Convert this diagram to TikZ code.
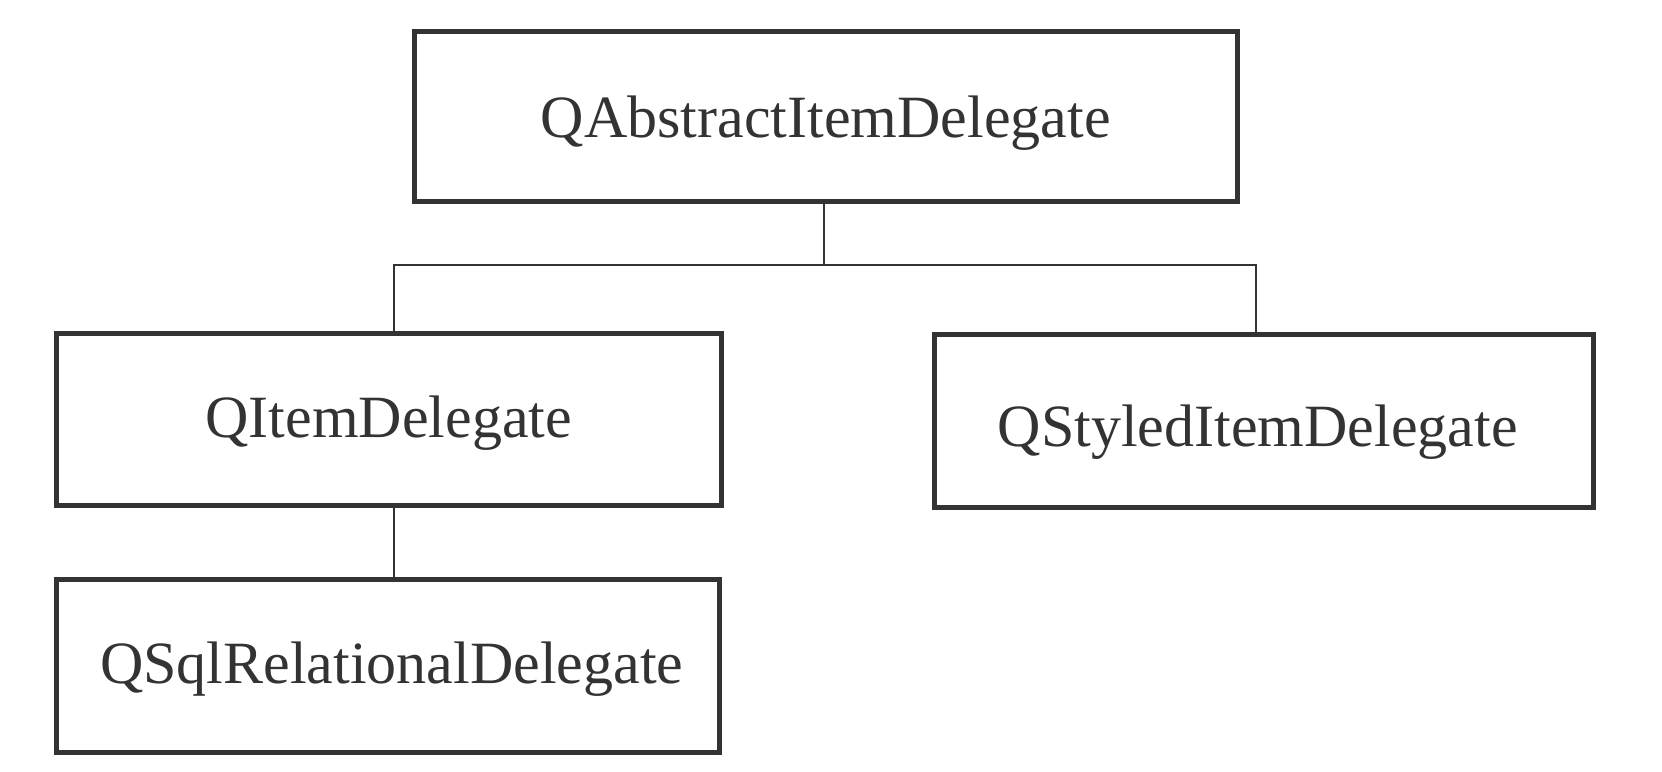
\documentclass[tikz,border=0pt]{standalone}
\usepackage{fontspec}
\setmainfont{Liberation Serif}
\begin{document}
\begin{tikzpicture}[x=1pt,y=-1pt,
  box/.style={draw=ink,line width=4.5pt,rectangle,inner sep=0pt,anchor=north west},
  lbl/.style={anchor=base,text=ink,font=\fontsize{60}{72}\selectfont,inner sep=0pt},
  conn/.style={draw=ink,line width=2pt}]
\definecolor{ink}{HTML}{333333}
\useasboundingbox (0,0) rectangle (1662,771);
\node[box,minimum width=823pt,minimum height=170pt] (top) at (412,29) {};
\node[box,minimum width=665pt,minimum height=172pt] (item) at (54,331) {};
\node[box,minimum width=659pt,minimum height=173pt] (styled) at (932,332) {};
\node[box,minimum width=663pt,minimum height=173pt] (sql) at (54,577) {};
\node[lbl] (ttop) at ([yshift=-21pt]top.center) {QAbstractItemDelegate};
\node[lbl] (titem) at ([yshift=-18pt]item.center) {QItemDelegate};
\node[lbl] (tstyled) at ([xshift=-6pt,yshift=-26pt]styled.center) {QStyledItemDelegate};
\node[lbl] (tsql) at ([xshift=4pt,yshift=-18pt]sql.center) {QSqlRelationalDelegate};
\coordinate (j) at (824,265);
\draw[conn] (top.south -| j) -- (j);
\draw[conn] (item.north -| 394,0) |- (j) -| (styled.north -| 1256,0);
\draw[conn] (item.south -| 394,0) -- (sql.north -| 394,0);
\end{tikzpicture}
\end{document}
